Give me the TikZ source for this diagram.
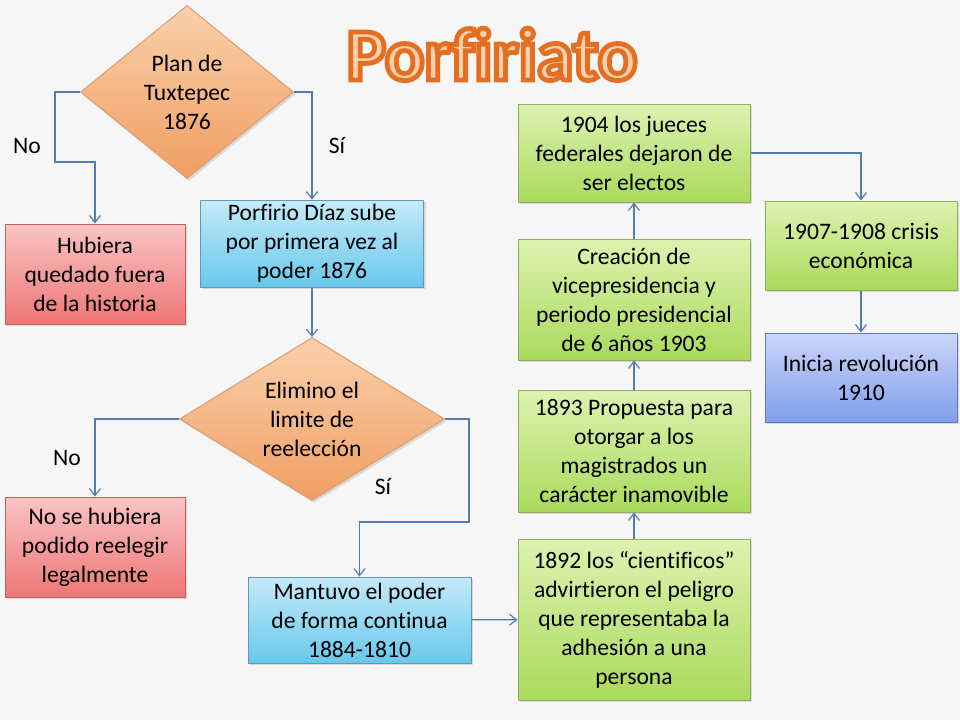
\documentclass[tikz,border=0pt]{standalone}
\usepackage{fontspec}
\setmainfont{Carlito}[Ligatures=CommonOff]
\usetikzlibrary{shapes.geometric,arrows.meta,shadows}

\definecolor{bgcol}{RGB}{246,246,246}
\definecolor{lincol}{RGB}{84,124,176}
\definecolor{redtop}{RGB}{250,196,196}
\definecolor{redbot}{RGB}{238,118,118}
\definecolor{redln}{RGB}{196,96,96}
\definecolor{bluetop}{RGB}{196,234,248}
\definecolor{bluebot}{RGB}{104,200,236}
\definecolor{blueln}{RGB}{104,150,182}
\definecolor{greentop}{RGB}{222,242,176}
\definecolor{greenbot}{RGB}{170,218,92}
\definecolor{greenln}{RGB}{146,172,96}
\definecolor{violettop}{RGB}{204,214,250}
\definecolor{violetbot}{RGB}{128,158,234}
\definecolor{violetln}{RGB}{104,122,180}
\definecolor{ortop}{RGB}{250,208,172}
\definecolor{orbot}{RGB}{240,158,98}
\definecolor{orln}{RGB}{222,156,108}
\definecolor{titlefill}{RGB}{250,208,172}

% outlined text: fill in the current colour, stroke in orange
\newcommand{\outlinedtitle}[1]{\color{titlefill}\special{pdf:literal direct 2 Tr 2.4 w 0.894 0.431 0.133 RG}#1\special{pdf:literal direct 0 Tr 0 0 0 RG}}

\begin{document}
\begin{tikzpicture}[x=0.5pt,y=-0.5pt,
    font=\fontsize{11.8}{14.5}\selectfont,
    base/.style={rectangle, align=center, inner sep=2pt, line width=0.5pt,
      drop shadow={opacity=0.25,shadow xshift=1pt,shadow yshift=-1.2pt}},
    redbox/.style={base, draw=redln, top color=redtop, bottom color=redbot},
    bluebox/.style={base, draw=blueln, top color=bluetop, bottom color=bluebot},
    greenbox/.style={base, draw=greenln, top color=greentop, bottom color=greenbot},
    violetbox/.style={base, draw=violetln, top color=violettop, bottom color=violetbot},
    decision/.style={diamond, align=center, inner sep=0pt, line width=0.5pt,
      draw=orln, top color=ortop, bottom color=orbot,
      drop shadow={opacity=0.25,shadow xshift=1pt,shadow yshift=-1.2pt}},
    conn/.style={draw=lincol, line width=0.6pt, -{Straight Barb[length=3.5pt,width=5.5pt]}},
    lbl/.style={inner sep=0pt},
    titletext/.style={anchor=base, inner sep=0pt, font=\fontsize{37}{40}\selectfont\bfseries}]

  % background and page size
  \fill[bgcol] (0,0) rectangle (960,720);
  \useasboundingbox (0,0) rectangle (960,720);

  % title
  \node[titletext] (title) at (492,80) {\outlinedtitle{Porfiriato}};

  % left column
  \node[decision, minimum width=106.5pt, minimum height=86.5pt, aspect=1.23] (plan) at (187,92) {Plan de\\Tuxtepec\\1876};
  \node[redbox, minimum width=90pt, minimum height=50pt] (fuera) at (95,274) {Hubiera\\quedado fuera\\de la historia};
  \node[bluebox, minimum width=111.5pt, minimum height=43.5pt] (sube) at (312,243.5) {Porfirio Díaz sube\\por primera vez al\\poder 1876};
  \node[decision, minimum width=132.5pt, minimum height=81.5pt, aspect=1.63] (limite) at (312,419) {Elimino el\\limite de\\reelección};
  \node[redbox, minimum width=90pt, minimum height=50pt] (legal) at (95,547) {No se hubiera\\podido reelegir\\legalmente};
  \node[bluebox, minimum width=111.5pt, minimum height=43pt] (mantuvo) at (359.5,620) {Mantuvo el poder\\de forma continua\\1884-1810};

  % right columns
  \node[greenbox, minimum width=116pt, minimum height=80.5pt] (g1892) at (634,619.5) {1892 los “cientificos”\\advirtieron el peligro\\que representaba la\\adhesión a una\\persona};
  \node[greenbox, minimum width=116pt, minimum height=61pt] (g1893) at (634,451) {1893 Propuesta para\\otorgar a los\\magistrados un\\carácter inamovible};
  \node[greenbox, minimum width=116pt, minimum height=60.5pt] (g1903) at (634,299.5) {Creación de\\vicepresidencia y\\periodo presidencial\\de 6 años 1903};
  \node[greenbox, minimum width=116pt, minimum height=49pt] (g1904) at (634,153) {1904 los jueces\\federales dejaron de\\ser electos};
  \node[greenbox, minimum width=96pt, minimum height=44.5pt] (g1907) at (861,245.5) {1907-1908 crisis\\económica};
  \node[violetbox, minimum width=96pt, minimum height=44.5pt] (g1910) at (861,377.5) {Inicia revolución\\1910};

  % labels
  \node[lbl] (no1) at (27,146) {No};
  \node[lbl] (si1) at (337,146) {Sí};
  \node[lbl] (no2) at (67,458) {No};
  \node[lbl] (si2) at (383,487) {Sí};

  % connectors
  \draw[conn] (plan.west) -| (55,162) -| (fuera.north);
  \draw[conn] (plan.east) -| (sube.north);
  \draw[conn] (sube) -- (limite);
  \draw[conn] (limite.west) -| (legal.north);
  \draw[conn] (limite.east) -| (469,522) -| (mantuvo.north);
  \draw[conn] (mantuvo) -- (g1892);
  \draw[conn] (g1892) -- (g1893);
  \draw[conn] (g1893) -- (g1903);
  \draw[conn] (g1903) -- (g1904);
  \draw[conn] (g1904.east) -| (g1907.north);
  \draw[conn] (g1907) -- (g1910);
\end{tikzpicture}
\end{document}
